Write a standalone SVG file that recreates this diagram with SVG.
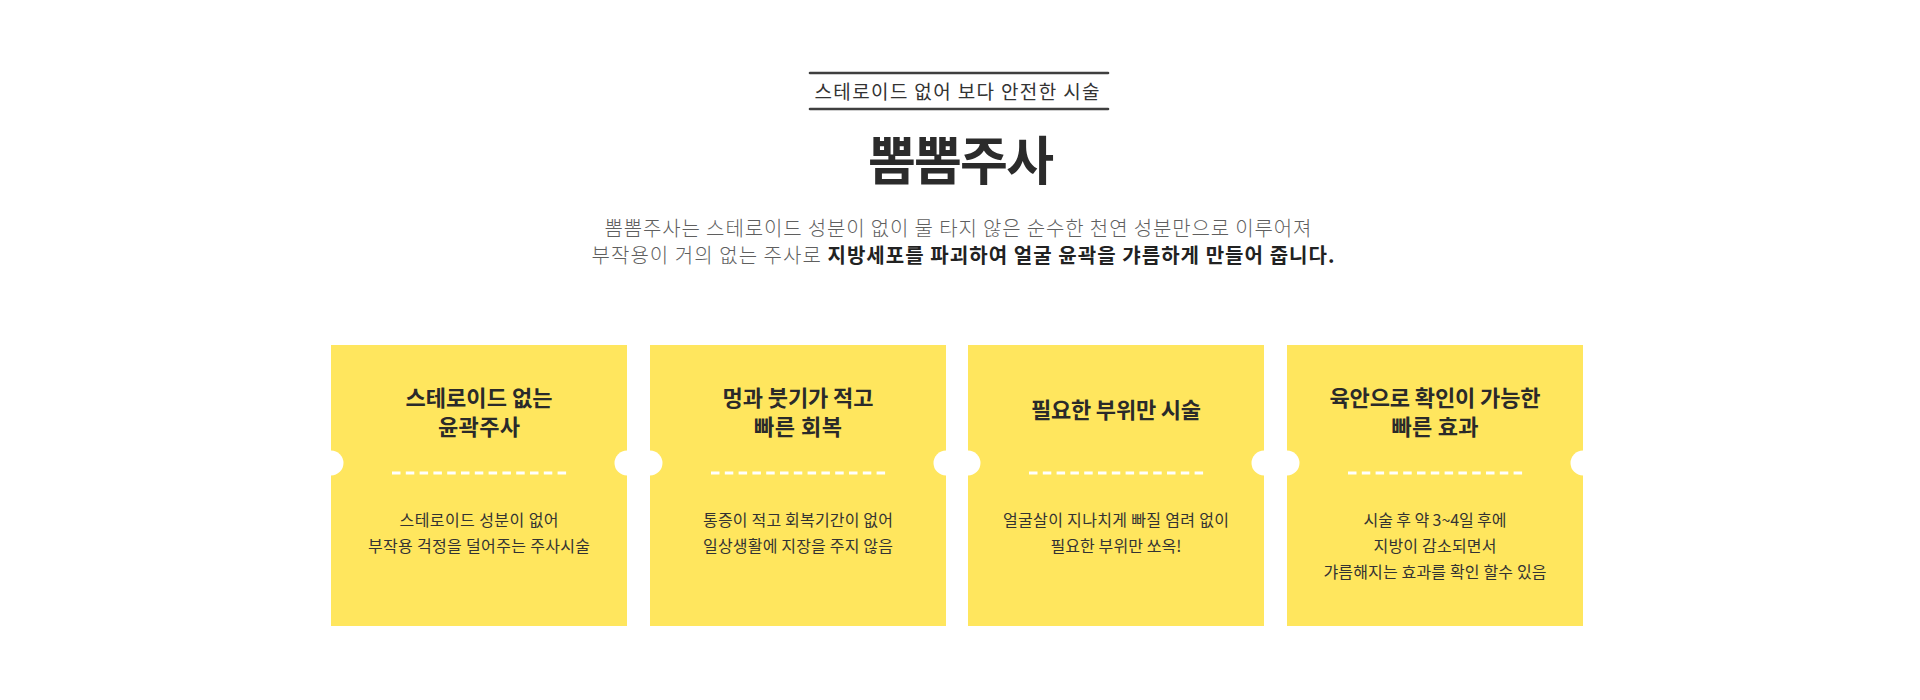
<svg xmlns="http://www.w3.org/2000/svg" width="1920" height="700" viewBox="0 0 1920 700">
<style>
text{font-family:"Noto Sans CJK KR","Noto Sans",sans-serif;text-anchor:middle}
.sub{font-size:19px;font-weight:400;fill:#333}
.h1{font-size:52px;font-weight:700;fill:#2b2b2b}
.p{font-size:20px;font-weight:300;fill:#5f5f5f}
.pb{font-weight:700;fill:#222}
.card{fill:#FFE65E}
.notch{fill:#fff}
.dash{stroke:#fff;stroke-width:3;stroke-dasharray:8.5 5.3}
.ct{font-size:22px;font-weight:700;fill:#2a2a2a}
.cd{font-size:16px;font-weight:400;fill:#333}
.rule{stroke:#3f3f3f;stroke-width:2.6;stroke-linecap:round}
</style>
<rect width="1920" height="700" fill="#fff"/>
<g id="header">
  <line class="rule" x1="810" y1="73" x2="1108" y2="73"/>
  <line class="rule" x1="810" y1="109" x2="1108" y2="109"/>
  <text class="sub" x="957" y="99" textLength="285" lengthAdjust="spacing">스테로이드 없어 보다 안전한 시술</text>
  <text class="h1" x="961" y="180" textLength="186" lengthAdjust="spacing">뽐뽐주사</text>
  <text class="p" x="958" y="236" textLength="707" lengthAdjust="spacing">뽐뽐주사는 스테로이드 성분이 없이 물 타지 않은 순수한 천연 성분만으로 이루어져</text>
  <text class="p" x="963" y="263" textLength="743" lengthAdjust="spacing">부작용이 거의 없는 주사로 <tspan class="pb">지방세포를 파괴하여 얼굴 윤곽을 갸름하게 만들어 줍니다.</tspan></text>
</g>
<g id="card1">
  <rect class="card" x="331" y="345" width="296" height="281"/>
  <circle class="notch" cx="331" cy="463" r="12.5"/>
  <circle class="notch" cx="627" cy="463" r="12.5"/>
  <line class="dash" x1="392" y1="473" x2="567" y2="473"/>
  <text class="ct" x="479" y="406" textLength="147" lengthAdjust="spacing">스테로이드 없는</text>
  <text class="ct" x="479" y="435" textLength="82" lengthAdjust="spacing">윤곽주사</text>
  <text class="cd" x="479" y="526" textLength="159" lengthAdjust="spacing">스테로이드 성분이 없어</text>
  <text class="cd" x="479" y="552" textLength="222" lengthAdjust="spacing">부작용 걱정을 덜어주는 주사시술</text>
</g>
<g id="card2">
  <rect class="card" x="650" y="345" width="296" height="281"/>
  <circle class="notch" cx="650" cy="463" r="12.5"/>
  <circle class="notch" cx="946" cy="463" r="12.5"/>
  <line class="dash" x1="711" y1="473" x2="886" y2="473"/>
  <text class="ct" x="798" y="406" textLength="151" lengthAdjust="spacing">멍과 붓기가 적고</text>
  <text class="ct" x="798" y="435" textLength="88" lengthAdjust="spacing">빠른 회복</text>
  <text class="cd" x="798" y="526" textLength="190" lengthAdjust="spacing">통증이 적고 회복기간이 없어</text>
  <text class="cd" x="798" y="552" textLength="190" lengthAdjust="spacing">일상생활에 지장을 주지 않음</text>
</g>
<g id="card3">
  <rect class="card" x="968" y="345" width="296" height="281"/>
  <circle class="notch" cx="968" cy="463" r="12.5"/>
  <circle class="notch" cx="1264" cy="463" r="12.5"/>
  <line class="dash" x1="1029" y1="473" x2="1204" y2="473"/>
  <text class="ct" x="1116" y="418" textLength="170" lengthAdjust="spacing">필요한 부위만 시술</text>
  <text class="cd" x="1116" y="526" textLength="226" lengthAdjust="spacing">얼굴살이 지나치게 빠질 염려 없이</text>
  <text class="cd" x="1116" y="552" textLength="131" lengthAdjust="spacing">필요한 부위만 쏘옥!</text>
</g>
<g id="card4">
  <rect class="card" x="1287" y="345" width="296" height="281"/>
  <circle class="notch" cx="1287" cy="463" r="12.5"/>
  <circle class="notch" cx="1583" cy="463" r="12.5"/>
  <line class="dash" x1="1348" y1="473" x2="1523" y2="473"/>
  <text class="ct" x="1435" y="406" textLength="211" lengthAdjust="spacing">육안으로 확인이 가능한</text>
  <text class="ct" x="1435" y="435" textLength="87" lengthAdjust="spacing">빠른 효과</text>
  <text class="cd" x="1435" y="526" textLength="143" lengthAdjust="spacing">시술 후 약 3~4일 후에</text>
  <text class="cd" x="1435" y="552" textLength="123" lengthAdjust="spacing">지방이 감소되면서</text>
  <text class="cd" x="1435" y="578" textLength="223" lengthAdjust="spacing">갸름해지는 효과를 확인 할수 있음</text>
</g>
</svg>
